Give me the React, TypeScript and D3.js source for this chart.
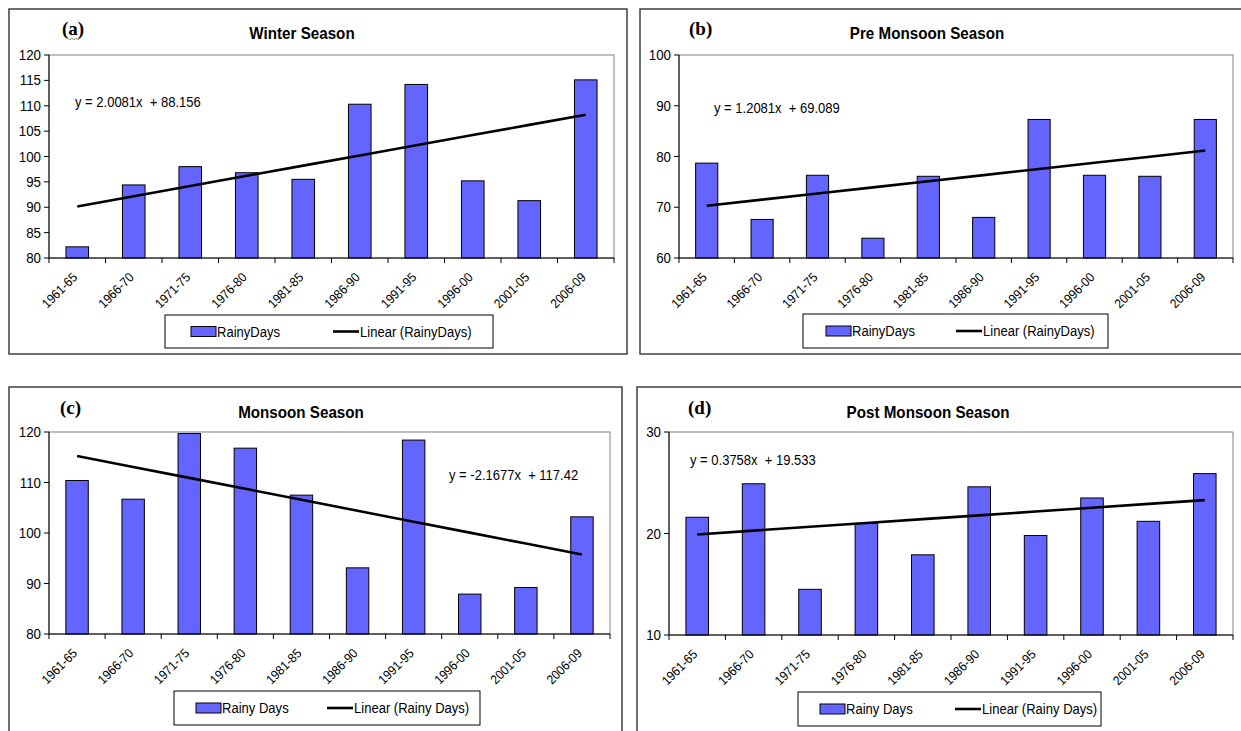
import React from "react";
import * as d3 from "d3";

// five-year periods on the x axis
const periods = [
  "1961-65", "1966-70", "1971-75", "1976-80", "1981-85",
  "1986-90", "1991-95", "1996-00", "2001-05", "2006-09",
];

// rainy days per period, one array per season
const winterDays = [82.2, 94.4, 98.0, 96.8, 95.5, 110.3, 114.2, 95.2, 91.3, 115.1];
const preMonsoonDays = [78.7, 67.6, 76.3, 63.9, 76.1, 68.0, 87.3, 76.3, 76.1, 87.3];
const monsoonDays = [110.4, 106.7, 119.7, 116.8, 107.5, 93.1, 118.4, 87.9, 89.2, 103.2];
const postMonsoonDays = [21.6, 24.9, 14.5, 21.0, 17.9, 24.6, 19.8, 23.5, 21.2, 25.9];

const seasonTitles = ["Winter Season", "Pre Monsoon Season", "Monsoon Season", "Post Monsoon Season"];
const panelLetters = ["(a)", "(b)", "(c)", "(d)"];

// linear trend (as printed on each chart)
const trendSlopes = [2.0081, 1.2081, -2.1677, 0.3758];
const trendIntercepts = [88.156, 69.089, 117.42, 19.533];
const equationLabels = [
  "y = 2.0081x  + 88.156",
  "y = 1.2081x  + 69.089",
  "y = -2.1677x  + 117.42",
  "y = 0.3758x  + 19.533",
];

const yDomains = [[80, 120], [60, 100], [80, 120], [10, 30]];
const yTickValues = [
  [80, 85, 90, 95, 100, 105, 110, 115, 120],
  [60, 70, 80, 90, 100],
  [80, 90, 100, 110, 120],
  [10, 20, 30],
];

const legendBarLabels = ["RainyDays", "RainyDays", "Rainy Days", "Rainy Days"];
const legendLineLabels = ["Linear (RainyDays)", "Linear (RainyDays)", "Linear (Rainy Days)", "Linear (Rainy Days)"];

const series = [winterDays, preMonsoonDays, monsoonDays, postMonsoonDays];

// page layout of each panel
const layouts = [
  { frame: [9, 9, 627, 354], plot: [49, 55, 614, 258], title: [302, 39], letter: [62, 35], eq: [75, 107], legend: [165, 315, 493, 348], sw: 191, ln: 333 },
  { frame: [640, 9, 1250, 354], plot: [679, 55, 1233, 258], title: [927, 39], letter: [689, 35], eq: [714, 113], legend: [803, 314, 1108, 348], sw: 826, ln: 956 },
  { frame: [9, 387, 622, 745], plot: [49, 432, 610, 634], title: [301, 418], letter: [60, 414], eq: [449, 480], legend: [174, 691, 480, 725], sw: 196, ln: 327 },
  { frame: [637, 387, 1250, 745], plot: [669, 432, 1233, 635], title: [928, 418], letter: [688, 414], eq: [690, 465], legend: [798, 692, 1101, 726], sw: 820, ln: 955 },
];

const BAR = "#6464ff";
const SANS = "'Liberation Sans', Arial, sans-serif";
const SERIF = "'Liberation Serif', 'Times New Roman', serif";

const Narrow = ({ x, y, size, sx = 0.82, anchor = "start", rotate = 0, weight = "normal", children }) => (
  <text
    transform={`translate(${x},${y}) rotate(${rotate}) scale(${sx},1)`}
    fontFamily={SANS}
    fontSize={size}
    fontWeight={weight}
    textAnchor={anchor}
    fill="#000"
    style={{ whiteSpace: "pre" }}
  >
    {children}
  </text>
);

const Panel = ({ i }) => {
  const lay = layouts[i];
  const [l, t, r, b] = lay.plot;
  const values = series[i];

  const x = d3.scaleBand().domain(periods).range([l, r]).paddingInner(0.6).paddingOuter(0.3);
  const y = d3.scaleLinear().domain(yDomains[i]).range([b, t]);
  const center = (p) => x(p) + x.bandwidth() / 2;
  const step = x.step();

  const trend = d3
    .line()
    .x((_, k) => center(periods[k]))
    .y((_, k) => y(trendSlopes[i] * (k + 1) + trendIntercepts[i]));

  const [fl, ft, fr, fb] = lay.frame;
  const [gl, gt, gr, gb] = lay.legend;
  const gy = (gt + gb) / 2;

  return (
    <g>
      <rect x={fl} y={ft} width={fr - fl} height={fb - ft} fill="#fff" stroke="#333" strokeWidth={1.4} />

      <text x={lay.letter[0]} y={lay.letter[1]} fontFamily={SERIF} fontWeight="bold" fontSize={19}>
        {panelLetters[i]}
      </text>
      {i === 0 && (
        <path d={`M${lay.letter[0] + 6},${lay.letter[1] + 3} l2,2 l2,-2 l2,2 l2,-2 l2,2 l2,-2`} fill="none" stroke="#3c9a3c" strokeWidth={0.8} />
      )}
      <Narrow x={lay.title[0]} y={lay.title[1]} size={16} sx={0.95} anchor="middle" weight="bold">
        {seasonTitles[i]}
      </Narrow>

      {/* plot area */}
      <rect x={l} y={t} width={r - l} height={b - t} fill="none" stroke="#808080" strokeWidth={1} />

      {values.map((v, k) => (
        <rect
          key={k}
          x={x(periods[k])}
          y={y(v)}
          width={x.bandwidth()}
          height={b - y(v)}
          fill={BAR}
          stroke="#000"
          strokeWidth={1}
        />
      ))}

      <path d={trend(values)} fill="none" stroke="#000" strokeWidth={2.6} />

      {/* y axis */}
      <line x1={l} x2={l} y1={t} y2={b} stroke="#000" />
      {yTickValues[i].map((v) => (
        <g key={v}>
          <line x1={l - 5} x2={l} y1={y(v)} y2={y(v)} stroke="#000" />
          <Narrow x={l - 8} y={y(v) + 5} size={14.5} sx={0.92} anchor="end">
            {String(v)}
          </Narrow>
        </g>
      ))}

      {/* x axis */}
      <line x1={l} x2={r} y1={b} y2={b} stroke="#000" />
      {d3.range(periods.length + 1).map((k) => (
        <line key={k} x1={l + k * step} x2={l + k * step} y1={b} y2={b + 5} stroke="#000" />
      ))}
      {periods.map((p) => (
        <Narrow key={p} x={center(p) + 1} y={b + 20} size={13} anchor="end" rotate={-45} sx={0.92}>
          {p}
        </Narrow>
      ))}

      <Narrow x={lay.eq[0]} y={lay.eq[1]} size={14} sx={0.93}>
        {equationLabels[i]}
      </Narrow>

      {/* legend */}
      <rect x={gl} y={gt} width={gr - gl} height={gb - gt} fill="#fff" stroke="#000" strokeWidth={1} />
      <rect x={lay.sw} y={gy - 5} width={25} height={10} fill={BAR} stroke="#000" strokeWidth={1} />
      <Narrow x={lay.sw + 26} y={gy + 5} size={14.5} sx={0.9}>
        {legendBarLabels[i]}
      </Narrow>
      <line x1={lay.ln} x2={lay.ln + 26} y1={gy} y2={gy} stroke="#000" strokeWidth={2.6} />
      <Narrow x={lay.ln + 27} y={gy + 5} size={14.5} sx={0.9}>
        {legendLineLabels[i]}
      </Narrow>
    </g>
  );
};

export default function App() {
  return (
    <svg
      width={1241}
      height={731}
      style={{ position: "absolute", left: 0, top: 0, background: "#fff" }}
    >
      {[0, 1, 2, 3].map((i) => (
        <Panel key={i} i={i} />
      ))}
    </svg>
  );
}
